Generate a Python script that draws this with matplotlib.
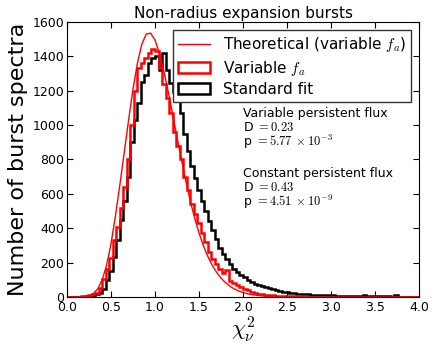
import numpy as np
import matplotlib
matplotlib.use('Agg')
from matplotlib import pyplot as plt

plt.rcParams['mathtext.fontset'] = 'cm'
plt.rcParams['font.family'] = 'DejaVu Sans'

# histogram bins (chi2_nu), width 0.04 from 0 to 4
bin_edges = np.linspace(0.0, 4.0, 101)

variable_fa = [0, 0, 0, 1, 3, 5, 9, 15, 25, 55,
               105, 160, 225, 330, 410, 520, 640, 800, 1000, 1200,
               1330, 1360, 1390, 1420, 1440, 1430, 1330, 1240, 1160, 1070,
               960, 880, 800, 700, 620, 540, 480, 430, 370, 320,
               260, 220, 190, 165, 140, 157, 95, 80, 68, 56,
               46, 38, 30, 25, 20, 16, 13, 11, 9, 8,
               6, 5, 5, 4, 3, 3,
               2, 2, 2, 1, 2, 1, 1, 1, 1, 1,
               0, 1, 1, 0, 0, 1, 0, 0, 0, 1,
               0, 0, 0, 0, 0, 0, 0, 0, 0, 0,
               0, 0, 0, 0]

standard_fit = [0, 0, 0, 1, 2, 3, 5, 8, 15, 25,
                45, 100, 150, 230, 330, 450, 560, 700, 900, 1030,
                1130, 1250, 1290, 1360, 1390, 1400, 1320, 1420, 1320, 1245,
                1190, 1140, 1070, 950, 850, 760, 690, 620, 560, 500,
                440, 390, 340, 285, 250, 220, 190, 165, 145, 128,
                115, 100, 88, 78, 70, 62, 56, 50, 44, 39,
                35, 31, 28, 25, 22, 20,
                18, 16, 15, 14, 13, 12, 11, 10, 12, 9,
                8, 8, 7, 7, 6, 6, 5, 5, 14, 4,
                4, 4, 3, 3, 3, 3, 2, 12, 2, 2,
                2, 1, 1, 1]

theory_x = [0.10, 0.15, 0.20, 0.25, 0.30, 0.35, 0.40, 0.45, 0.50, 0.55,
            0.60, 0.65, 0.70, 0.75, 0.80, 0.85, 0.90, 0.95, 1.00, 1.05,
            1.10, 1.15, 1.20, 1.25, 1.30, 1.35, 1.40, 1.45, 1.50, 1.55,
            1.60, 1.65, 1.70, 1.75, 1.80, 1.85, 1.90, 1.95, 2.00, 2.05,
            2.10, 2.15, 2.20, 2.25, 2.30, 2.35, 2.40, 2.45, 2.50, 2.60,
            2.70, 2.80]
theory_y = [0, 0.5, 2, 7, 20, 48, 100, 185, 310, 470,
            650, 840, 1030, 1210, 1360, 1470, 1530, 1535, 1495, 1420,
            1315, 1195, 1065, 930, 800, 675, 560, 460, 372, 298,
            236, 185, 143, 110, 84, 63, 47, 35, 26, 19,
            14, 10, 7, 5, 3.5, 2.5, 1.7, 1.2, 0.8, 0.4,
            0.2, 0.1]

stats_lines = ['Variable persistent flux',
               r'D $= 0.23$',
               r'p $= 5.77\,\times 10^{-3}$',
               'Constant persistent flux',
               r'D $= 0.43$',
               r'p $= 4.51\,\times 10^{-9}$']
stats_y = [0.653, 0.603, 0.549, 0.435, 0.385, 0.331]

fig = plt.figure(figsize=(4.36, 3.48), dpi=100)
ax = fig.add_axes([0.1537, 0.1466, 0.8073, 0.7902])

centers = bin_edges[:-1]
_, _, p_std = ax.hist(centers, bins=bin_edges, weights=standard_fit,
                      histtype='step', color='black', linewidth=1.8)
_, _, p_var = ax.hist(centers, bins=bin_edges, weights=variable_fa,
                      histtype='step', color='red', linewidth=1.8)
l_th, = ax.plot(theory_x, theory_y, color='red', linewidth=1.0)

ax.set_xlim(0, 4)
ax.set_ylim(0, 1600)
ax.set_xticks(np.arange(0, 4.01, 0.5))
ax.set_yticks(np.arange(0, 1601, 200))
ax.xaxis.set_major_formatter(matplotlib.ticker.FormatStrFormatter('%.1f'))
ax.tick_params(direction='in', top=True, right=True, length=4, width=0.8,
               labelsize=9)
ax.tick_params(axis='y', pad=2)
ax.tick_params(axis='x', pad=3)

ax.set_title('Non-radius expansion bursts', fontsize=11, pad=3)
ax.set_xlabel(r'$\chi_{\nu}^2$', fontsize=16, labelpad=0)
ax.set_ylabel('Number of burst spectra', fontsize=16, labelpad=3)

ax.legend([l_th, p_var[0], p_std[0]],
          [r'Theoretical (variable $f_a$)', r'Variable $f_a$', 'Standard fit'],
          loc='upper right', fontsize=11, fancybox=False, framealpha=1,
          edgecolor='#333333', borderaxespad=0.5, handlelength=2.1,
          labelspacing=0.3, borderpad=0.35)

for s, y in zip(stats_lines, stats_y):
    ax.text(0.5, y, s, transform=ax.transAxes, fontsize=9, va='baseline')

fig.savefig('out.png', dpi=100)
